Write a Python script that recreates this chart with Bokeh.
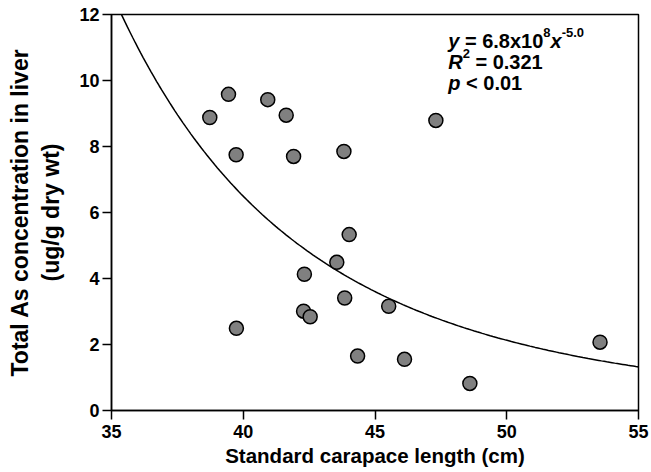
from bokeh.plotting import figure
from bokeh.models import Range1d, FixedTicker, Label, ColumnDataSource
from bokeh.embed import file_html
from bokeh.resources import INLINE
import numpy as np

# Data
length_cm = [38.73, 39.44, 40.93, 41.63, 39.73, 41.91, 43.82, 47.31, 44.02, 43.55,
             42.32, 43.85, 42.29, 42.54, 45.52, 44.34, 46.12, 39.74, 48.60, 53.54]
as_liver = [8.88, 9.58, 9.42, 8.95, 7.75, 7.70, 7.85, 8.79, 5.33, 4.49,
            4.13, 3.41, 3.01, 2.84, 3.16, 1.65, 1.55, 2.49, 0.82, 2.07]

x_ticks = [35, 40, 45, 50, 55]
y_ticks = [0, 2, 4, 6, 8, 10, 12]

# Power fit y = a * x^b
fit_a = 6.65e8
fit_b = -5.0

FONT = "Liberation Sans"

p = figure(width=650, height=472, output_backend="svg", toolbar_location=None,
           x_range=Range1d(35, 55), y_range=Range1d(0, 12),
           min_border_left=111, min_border_right=12, min_border_top=14, min_border_bottom=62)
p.grid.visible = False
p.outline_line_color = "black"
p.outline_line_width = 1.5
p.background_fill_color = "white"
p.border_fill_color = "white"

fx = np.linspace(35, 55, 200)
fy = fit_a * fx ** fit_b
p.line(fx, fy, line_color="black", line_width=1.5)

src = ColumnDataSource(dict(x=length_cm, y=as_liver))
p.scatter("x", "y", source=src, size=14, fill_color="#808080", line_color="black", line_width=1.5)

for ax in (p.xaxis[0], p.yaxis[0]):
    ax.axis_line_color = "black"
    ax.axis_line_width = 1.5
    ax.major_tick_line_color = "black"
    ax.major_tick_line_width = 1.5
    ax.major_tick_out = 9
    ax.major_tick_in = 0
    ax.minor_tick_line_color = None
    ax.major_label_text_font = FONT
    ax.major_label_text_font_style = "bold"
    ax.major_label_text_font_size = "18px"
    ax.major_label_text_color = "black"
    ax.axis_label_text_font = FONT
    ax.axis_label_text_font_style = "bold"
    ax.axis_label_text_color = "black"

p.xaxis[0].ticker = FixedTicker(ticks=x_ticks)
p.yaxis[0].ticker = FixedTicker(ticks=y_ticks)
p.xaxis[0].axis_label = "Standard carapace length (cm)"
p.xaxis[0].axis_label_text_font_size = "20.5px"
p.xaxis[0].major_label_standoff = 5
p.xaxis[0].axis_label_standoff = 3
p.yaxis[0].axis_label = "Total As concentration in liver\n(ug/g dry wt)"
p.yaxis[0].axis_label_text_font_size = "23px"
p.yaxis[0].major_label_standoff = 3
p.yaxis[0].axis_label_standoff = 12

# Annotation (fit equation)
ax0, ay0 = 47.78, 11.20
pieces = [
    # text, x_off, y_off, size, style
    ("y", 0, 0, 20, "bold italic"),
    ("= 6.8x10", 16.7, 0, 20, "bold"),
    ("8", 95.1, 8, 13, "bold"),
    ("x", 102.3, 0, 20, "bold italic"),
    ("-5.0", 113.4, 8, 13, "bold"),
    ("R", 0, -21, 20, "bold italic"),
    ("2", 14.4, -13, 13, "bold"),
    ("= 0.321", 27.2, -21, 20, "bold"),
    ("p", 0, -42, 20, "bold italic"),
    ("< 0.01", 17.8, -42, 20, "bold"),
]
for t, xo, yo, sz, st in pieces:
    p.add_layout(Label(x=ax0, y=ay0, x_offset=xo, y_offset=yo, text=t,
                       text_font=FONT, text_font_style=st, text_font_size=f"{sz}px",
                       text_color="black", text_align="left", text_baseline="alphabetic"))

open("out.html", "w").write(file_html(p, INLINE))
